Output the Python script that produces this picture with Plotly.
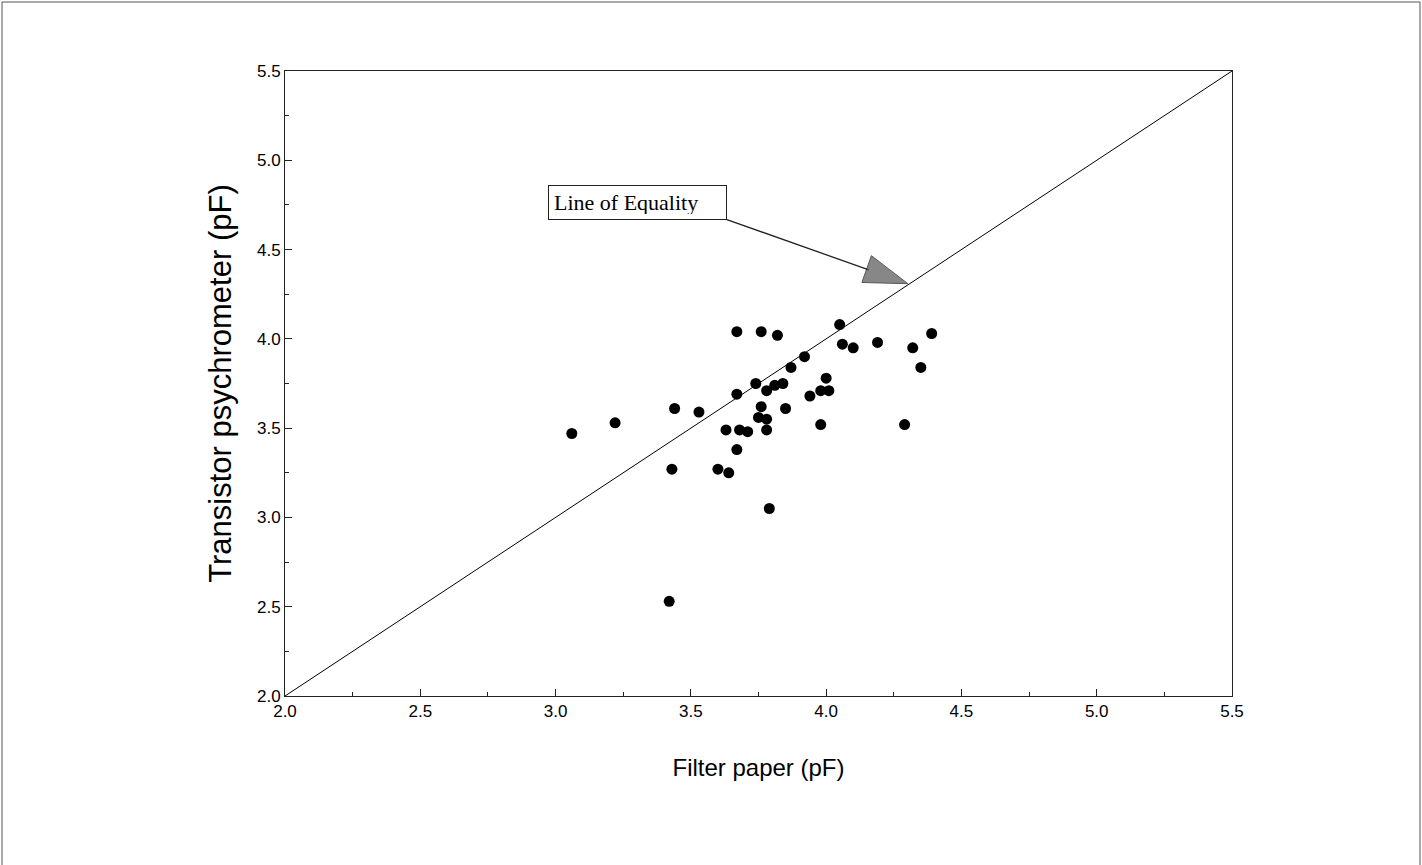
import plotly.graph_objects as go

# Data (Filter paper pF vs Transistor psychrometer pF)
filter_paper = [3.06, 3.22, 3.44, 3.53, 3.43, 3.67, 3.76, 3.82, 4.05, 4.06,
                4.10, 4.19, 4.32, 4.39, 4.35, 4.29, 3.92, 3.87, 4.00, 3.98,
                4.01, 3.94, 3.98, 3.74, 3.67, 3.78, 3.81, 3.84, 3.76, 3.85,
                3.75, 3.78, 3.78, 3.63, 3.68, 3.71, 3.67, 3.60, 3.64, 3.79,
                3.42]
psychrometer = [3.47, 3.53, 3.61, 3.59, 3.27, 4.04, 4.04, 4.02, 4.08, 3.97,
                3.95, 3.98, 3.95, 4.03, 3.84, 3.52, 3.90, 3.84, 3.78, 3.71,
                3.71, 3.68, 3.52, 3.75, 3.69, 3.71, 3.74, 3.75, 3.62, 3.61,
                3.56, 3.55, 3.49, 3.49, 3.49, 3.48, 3.38, 3.27, 3.25, 3.05,
                2.53]

equality_x = [2.0, 5.5]
equality_y = [2.0, 5.5]

axis_range = [2.0, 5.5]
tick_step = 0.5
minor_step = 0.25

x_title = "Filter paper (pF)"
y_title = "Transistor psychrometer (pF)"
note_text = "Line of Equality"
note_box = (2.972, 4.864)          # top-left of the label box (data units)
arrow_tail = (3.633, 4.668)        # box corner where the arrow starts
arrow_tip = (4.302, 4.309)         # arrow tip on the equality line

fig = go.Figure()

fig.add_trace(go.Scatter(
    x=equality_x, y=equality_y, mode="lines",
    line=dict(color="black", width=1), hoverinfo="skip", showlegend=False))

fig.add_trace(go.Scatter(
    x=filter_paper, y=psychrometer, mode="markers",
    marker=dict(color="black", size=11, symbol="circle"),
    showlegend=False))

# Arrow from label box to the line of equality
fig.add_trace(go.Scatter(
    x=[arrow_tail[0], arrow_tip[0]], y=[arrow_tail[1], arrow_tip[1]],
    mode="lines+markers",
    line=dict(color="#222222", width=1.3),
    marker=dict(symbol="arrow", size=[0, 46], angleref="previous",
                color="#555555", line=dict(color="#111111", width=1)),
    hoverinfo="skip", showlegend=False))

fig.add_annotation(
    x=note_box[0], y=note_box[1], xref="x", yref="y",
    xanchor="left", yanchor="top", showarrow=False,
    text=note_text, align="left", width=167, height=23,
    font=dict(family="Liberation Serif", size=22, color="black"),
    bgcolor="white", bordercolor="#222222", borderwidth=1, borderpad=5)

axis_common = dict(
    range=axis_range, dtick=tick_step, tick0=2.0, tickformat=".1f",
    showgrid=False, zeroline=False, showline=True, linecolor="#222222",
    linewidth=1, mirror=True, ticks="inside", ticklen=7, tickwidth=1,
    tickcolor="#222222",
    minor=dict(ticks="inside", ticklen=4, dtick=minor_step, tickcolor="#222222",
               showgrid=False),
    tickfont=dict(family="Liberation Sans", size=17, color="black"),
)

fig.update_xaxes(**axis_common,
                 title=dict(text=x_title, standoff=38,
                            font=dict(family="Liberation Sans", size=24, color="black")))
fig.update_yaxes(**axis_common,
                 title=dict(text=y_title, standoff=16,
                            font=dict(family="Liberation Sans", size=31, color="black")))

# page border from the scan
fig.add_shape(type="rect", xref="paper", yref="paper",
              x0=(2 - 285) / 947, x1=(1420 - 285) / 947,
              y0=-0.5, y1=(696 - 2) / 625,
              line=dict(color="#555555", width=1), layer="below")

fig.update_layout(
    width=1422, height=865,
    margin=dict(l=285, r=190, t=71, b=169, autoexpand=False),
    paper_bgcolor="white", plot_bgcolor="white",
    showlegend=False,
)

fig.write_html("out.html", config={"displayModeBar": False},
               post_script="document.body.style.margin='0';")
